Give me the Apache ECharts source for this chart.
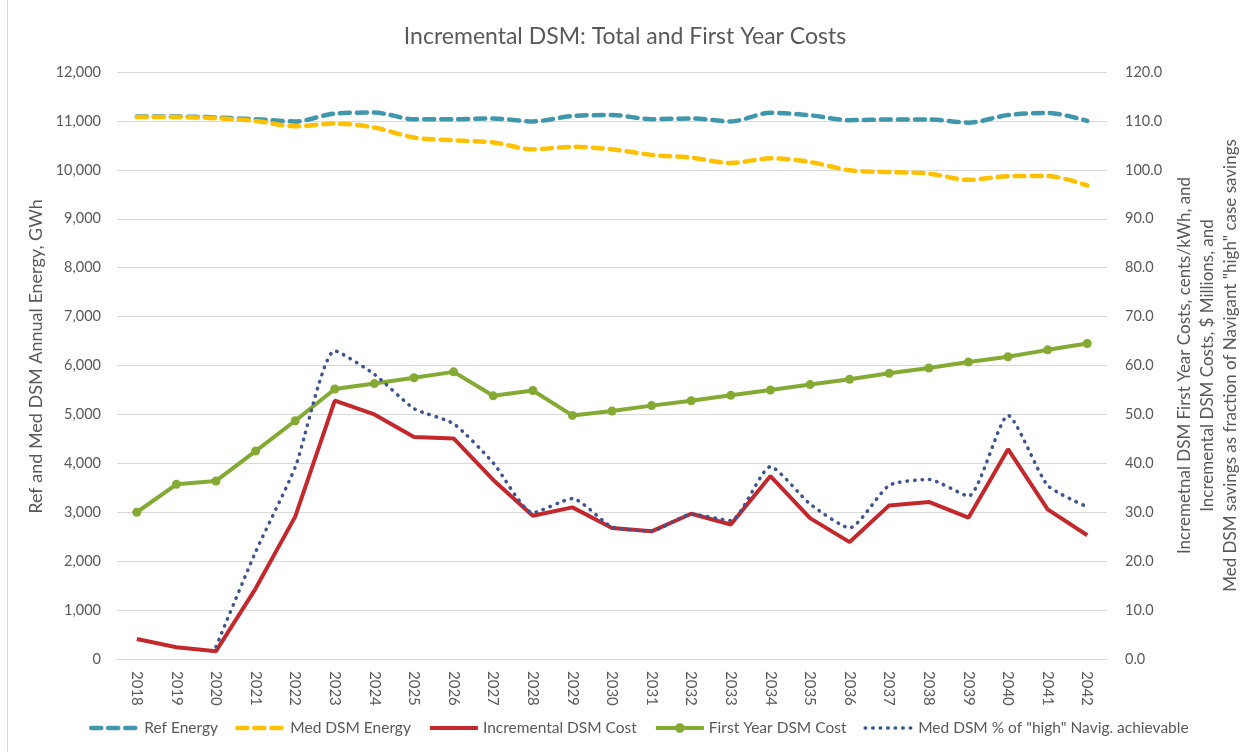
<!DOCTYPE html>
<html>
<head>
<meta charset="utf-8">
<script src="https://cdn.jsdelivr.net/npm/echarts@6/dist/echarts.min.js"></script>
<style>
  html, body { margin: 0; padding: 0; background: #fff; }
  #chart { width: 1250px; height: 752px; }
</style>
</head>
<body>
<div id="chart"></div>
<script>
const years = ['2018','2019','2020','2021','2022','2023','2024','2025','2026','2027','2028','2029','2030',
  '2031','2032','2033','2034','2035','2036','2037','2038','2039','2040','2041','2042']

const refEnergy = [11090, 11090, 11070, 11035, 10990, 11150, 11170, 11035, 11035, 11050, 10990, 11100, 11120,
  11035, 11050, 10990, 11165, 11115, 11015, 11030, 11030, 10965, 11120, 11165, 11000]
const medDsmEnergy = [11080, 11080, 11055, 11000, 10890, 10945, 10865, 10660, 10605, 10560, 10420, 10470, 10420,
  10305, 10250, 10140, 10235, 10160, 9990, 9955, 9925, 9795, 9870, 9875, 9680]
const incCost = [4.1, 2.4, 1.6, 14.4, 29.1, 52.8, 50.0, 45.4, 45.1, 36.6, 29.3, 31.0, 26.8,
  26.1, 29.7, 27.5, 37.4, 28.8, 23.9, 31.4, 32.1, 28.9, 42.9, 30.6, 25.3]
const firstYearCost = [30.0, 35.7, 36.4, 42.5, 48.7, 55.2, 56.3, 57.5, 58.7, 53.8, 54.9, 49.8, 50.7,
  51.8, 52.8, 53.9, 55.0, 56.1, 57.2, 58.4, 59.5, 60.7, 61.8, 63.2, 64.5]
const highPct = [null, null, 2.5, 21.9, 39.2, 63.0, 58.2, 51.2, 48.1, 40.1, 29.9, 32.8, 27.0,
  26.2, 29.6, 28.3, 39.3, 31.7, 26.8, 35.5, 36.7, 33.3, 49.8, 35.5, 31.1]

const txt = '#595959'
const font = 'Lato, "Open Sans", sans-serif'
const chart = echarts.init(document.getElementById('chart'))

// hide the legend marker on series drawn without symbols
const noMark = { itemStyle: { opacity: 0 } }

chart.setOption({
  animation: false,
  textStyle: { fontFamily: font, color: txt },
  title: {
    text: 'Incremental DSM: Total and First Year Costs',
    left: 'center',
    top: 20,
    padding: [5, 5, 5, 21],
    textStyle: { fontFamily: font, fontSize: 23, fontWeight: 'normal', color: txt }
  },
  graphic: [{
    type: 'line',
    shape: { x1: 7.5, y1: 0, x2: 7.5, y2: 752 },
    style: { stroke: '#d9d9d9', lineWidth: 1 }
  }],
  legend: {
    bottom: 11,
    left: 84,
    itemGap: 17,
    itemWidth: 48,
    itemHeight: 12,
    lineStyle: { width: 'inherit' },
    textStyle: { fontFamily: font, fontSize: 15.5, color: txt },
    data: [
      { name: 'Ref Energy', ...noMark },
      { name: 'Med DSM Energy', ...noMark },
      { name: 'Incremental DSM Cost', ...noMark },
      { name: 'First Year DSM Cost' },
      { name: 'Med DSM % of "high" Navig. achievable', ...noMark }
    ]
  },
  grid: { left: 117, right: 140, top: 72, bottom: 93 },
  xAxis: {
    type: 'category',
    data: years,
    boundaryGap: true,
    axisLine: { lineStyle: { color: '#d9d9d9' } },
    axisTick: { show: false },
    axisLabel: { rotate: -90, interval: 0, fontSize: 15, color: txt, fontFamily: font, margin: 12 }
  },
  yAxis: [
    {
      type: 'value',
      min: 0, max: 12000, interval: 1000,
      name: 'Ref and Med DSM Annual Energy, GWh',
      nameLocation: 'middle',
      nameGap: 61,
      nameRotate: 90,
      nameTextStyle: { fontSize: 18, color: txt, fontFamily: font, padding: [0, 0, 0, 18] },
      axisLine: { show: false },
      axisTick: { show: false },
      splitLine: { lineStyle: { color: '#d9d9d9', width: 1 } },
      axisLabel: { fontSize: 14.5, color: txt, fontFamily: font, margin: 16, formatter: v => v.toLocaleString('en-US') }
    },
    {
      type: 'value',
      min: 0, max: 120, interval: 10,
      name: 'Incremetnal DSM First Year Costs, cents/kWh, and\nIncremental DSM Costs, $ Millions, and\nMed DSM savings as fraction of Navigant "high" case savings',
      nameLocation: 'middle',
      nameGap: 57,
      nameRotate: 90,
      nameTextStyle: { fontSize: 17, color: txt, fontFamily: font, lineHeight: 23 },
      axisLine: { show: false },
      axisTick: { show: false },
      splitLine: { show: false },
      axisLabel: { fontSize: 14.5, color: txt, fontFamily: font, margin: 18, formatter: v => v.toFixed(1) }
    }
  ],
  series: [
    {
      name: 'Ref Energy', type: 'line', yAxisIndex: 0, data: refEnergy,
      smooth: 0.3, symbol: 'none',
      itemStyle: { color: '#4097AC' },
      lineStyle: { color: '#4097AC', width: 4.5, type: [10, 7], cap: 'round' }
    },
    {
      name: 'Med DSM Energy', type: 'line', yAxisIndex: 0, data: medDsmEnergy,
      smooth: 0.3, symbol: 'none',
      itemStyle: { color: '#FFC000' },
      lineStyle: { color: '#FFC000', width: 4.5, type: [10, 7], cap: 'round' }
    },
    {
      name: 'Incremental DSM Cost', type: 'line', yAxisIndex: 1, data: incCost,
      symbol: 'none',
      itemStyle: { color: '#C3282D' },
      lineStyle: { color: '#C3282D', width: 4 }
    },
    {
      name: 'First Year DSM Cost', type: 'line', yAxisIndex: 1, data: firstYearCost,
      symbol: 'circle', symbolSize: 9,
      itemStyle: { color: '#84AA33' },
      lineStyle: { color: '#84AA33', width: 4 }
    },
    {
      name: 'Med DSM % of "high" Navig. achievable', type: 'line', yAxisIndex: 1, data: highPct,
      smooth: 0.2, symbol: 'none',
      itemStyle: { color: '#3F5490' },
      lineStyle: { color: '#3F5490', width: 3.5, type: [0.5, 7], cap: 'round' }
    }
  ]
})
</script>
</body>
</html>
